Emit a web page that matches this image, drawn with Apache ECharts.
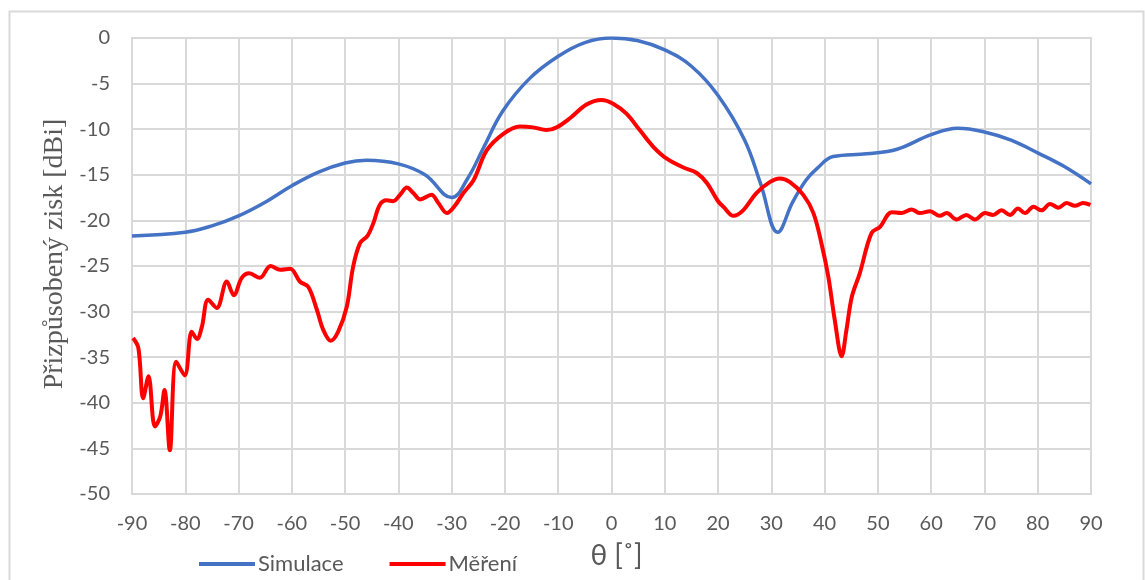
<!DOCTYPE html>
<html>
<head>
<meta charset="utf-8">
<script src="https://cdn.jsdelivr.net/npm/echarts@6/dist/echarts.min.js"></script>
<style>html,body{margin:0;padding:0;background:#fff}#c{width:1145px;height:580px}</style>
</head>
<body>
<div id="c"></div>
<script>
const xTicks = [-90, 90, 10];
const yTicks = [-50, 0, 5];
const seriesNames = ['Simulace', 'Měření'];

const simTheta = [-90, -80, -75, -70, -65, -60, -55, -50, -46, -40, -35, -30, -27, -24, -20.4, -15.3, -10, -5, 0, 5, 10, 15, 20, 25, 28, 31.2, 34, 36.5, 38.6, 41.6, 47.9, 53.6, 60, 65, 70, 75, 80, 85, 90];
const simGain = [-21.7, -21.3, -20.6, -19.5, -18, -16.2, -14.7, -13.7, -13.4, -13.8, -15, -17.5, -15.4, -12, -8.0, -4.4, -2.0, -0.5, 0, -0.3, -1.3, -3.1, -6.3, -11.2, -16, -21.3, -18.0, -15.6, -14.3, -13.0, -12.7, -12.2, -10.6, -9.9, -10.3, -11.2, -12.6, -14.1, -16.0];

const measTheta = [-89.8, -88.8, -87.9, -86.9, -85.7, -84.7, -83.9, -82.9, -81.7, -80.1, -78.8, -77.8, -76.9, -75.7, -74.1, -72.2, -70.9, -69.4, -68, -66, -64, -62.2, -60.3, -58.5, -56.9, -55.3, -54.1, -52.7, -51.3, -49.7, -48.5, -47.2, -45.8, -44.7, -43.5, -42.2, -41.0, -39.7, -38.4, -37.2, -35.9, -33.8, -32.5, -30.9, -29.4, -27.8, -25.9, -23.4, -20.3, -17.2, -14.7, -12.2, -10.3, -7.8, -4.7, -1.9, 0.3, 2.8, 5.3, 7.8, 10.3, 13.5, 16.0, 17.9, 20.0, 21.0, 22.9, 24.7, 27.2, 29.7, 31.6, 33.5, 36.0, 37.9, 39.4, 40.7, 41.9, 43.2, 44.1, 45.1, 46.6, 48.8, 50.4, 52.6, 54.4, 56.3, 57.9, 59.8, 61.6, 62.9, 64.8, 66.6, 68.2, 70.1, 71.6, 73.2, 74.8, 76.3, 77.6, 79.2, 80.7, 82.3, 83.9, 85.4, 87.0, 88.5, 89.9];
const measGain = [-32.9, -34.0, -39.5, -37.1, -42.6, -41.5, -38.6, -45.2, -35.5, -37.0, -32.2, -33.0, -31.7, -28.7, -29.6, -26.7, -28.2, -26.3, -25.8, -26.3, -25.0, -25.4, -25.3, -26.7, -27.3, -29.8, -32.0, -33.2, -32.2, -29.5, -25.1, -22.5, -21.7, -20.3, -18.3, -17.8, -17.9, -17.2, -16.4, -17.0, -17.7, -17.2, -18.1, -19.2, -18.4, -17.0, -15.6, -12.3, -10.5, -9.7, -9.8, -10.1, -9.8, -8.8, -7.3, -6.8, -7.2, -8.3, -10.1, -11.9, -13.2, -14.2, -14.8, -15.9, -17.9, -18.5, -19.5, -18.9, -17.0, -15.8, -15.4, -15.8, -17.2, -19.2, -22.5, -26.2, -30.9, -34.9, -32.0, -28.4, -25.8, -21.4, -20.7, -19.1, -19.2, -18.8, -19.2, -19.0, -19.5, -19.2, -19.9, -19.4, -19.9, -19.2, -19.4, -18.9, -19.4, -18.7, -19.2, -18.5, -18.9, -18.2, -18.6, -18.1, -18.4, -18.1, -18.3];

const zip = (a, b) => a.map((v, i) => [v, b[i]]);

const chart = echarts.init(document.getElementById('c'), null, {renderer: 'canvas'});
const grid = '#d9d9d9';
chart.setOption({
  animation: false,
  backgroundColor: '#fff',
  graphic: [{
    type: 'rect', left: 7, top: 9, silent: true,
    shape: {width: 1134, height: 600},
    style: {fill: 'none', stroke: grid, lineWidth: 2}
  }],
  grid: {left: 132, right: 54, top: 38, bottom: 86, show: true, borderColor: grid, borderWidth: 2},
  legend: {
    data: seriesNames,
    left: 194, top: 548,
    icon: 'rect', itemWidth: 56, itemHeight: 4, itemGap: 46,
    textStyle: {fontFamily: 'Lato', fontSize: 22, color: '#595959', padding: [0, 0, 0, -2]}
  },
  xAxis: {
    type: 'value', min: xTicks[0], max: xTicks[1], interval: xTicks[2],
    name: 'θ [˚]', nameLocation: 'middle', nameGap: 48,
    nameTextStyle: {fontFamily: 'Lato', fontSize: 28, color: '#595959', padding: [0, 0, 0, 10]},
    axisLine: {show: false}, axisTick: {show: false},
    axisLabel: {fontFamily: 'Lato', fontSize: 20, color: '#595959', margin: 20},
    splitLine: {show: true, lineStyle: {color: grid, width: 2}}
  },
  yAxis: {
    type: 'value', min: yTicks[0], max: yTicks[1], interval: yTicks[2],
    name: 'Přizpůsobený zisk [dBi]', nameLocation: 'middle', nameGap: 58,
    nameTextStyle: {fontFamily: 'Liberation Serif', fontSize: 28, color: '#595959', padding: [0, 0, 0, 24]},
    axisLine: {show: false}, axisTick: {show: false},
    axisLabel: {fontFamily: 'Lato', fontSize: 20, color: '#595959', margin: 22},
    splitLine: {show: true, lineStyle: {color: grid, width: 2}}
  },
  series: [
    {name: seriesNames[0], type: 'line', data: zip(simTheta, simGain), smooth: 0.4, showSymbol: false,
     lineStyle: {color: '#4472C4', width: 3.5}, itemStyle: {color: '#4472C4'}},
    {name: seriesNames[1], type: 'line', data: zip(measTheta, measGain), smooth: 0.35, showSymbol: false,
     lineStyle: {color: '#FF0000', width: 4}, itemStyle: {color: '#FF0000'}}
  ]
});
</script>
</body>
</html>
